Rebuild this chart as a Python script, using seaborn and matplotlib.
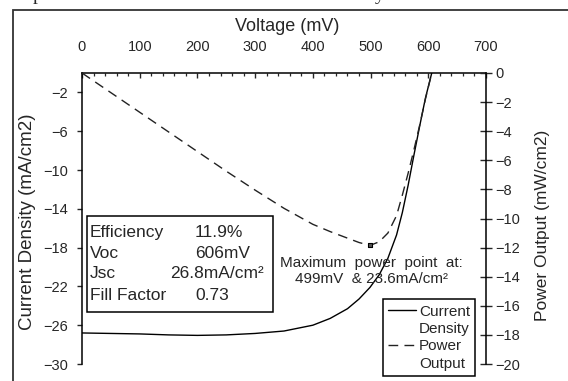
import matplotlib
matplotlib.use('Agg')
import matplotlib.pyplot as plt
import seaborn as sns
import pandas as pd
from matplotlib.lines import Line2D
from matplotlib.patches import Rectangle
from matplotlib.ticker import MultipleLocator

# values
voltage_mv = [0, 50, 100, 150, 200, 250, 300, 350, 400, 430, 460, 480, 499,
              515, 530, 545, 555, 565, 575, 585, 595, 606]
current_density = [-26.8, -26.85, -26.9, -27.0, -27.05, -27.0, -26.85, -26.6, -26.0,
                   -25.3, -24.3, -23.3, -22.1, -20.8, -19.1, -16.7, -14.4, -11.6,
                   -8.5, -5.5, -2.6, 0.0]
power_output = [0.0, -1.35, -2.7, -4.05, -5.4, -6.75, -8.05, -9.3, -10.4, -10.9,
                -11.35, -11.65, -11.85, -11.6, -11.0, -9.8, -8.4, -6.9, -5.3,
                -3.6, -1.8, 0.0]
mpp_voltage = [499]
mpp_power = [-11.85]

stats_names = ['Efficiency', 'Voc', 'Jsc', 'Fill Factor']
stats_values = ['11.9%', '606mV', '26.8mA/cm\u00b2', '0.73']

df = pd.DataFrame({'Voltage': voltage_mv, 'Current': current_density, 'Power': power_output})

sns.set_style('white')
plt.rcParams['font.family'] = ['Liberation Sans', 'DejaVu Sans']

fig = plt.figure(figsize=(5.68, 3.81), dpi=100)
ax = fig.add_axes([82 / 568, 1 - 364 / 381, 404 / 568, 291 / 381])
ax2 = ax.twinx()

sns.lineplot(data=df, x='Voltage', y='Current', ax=ax, color='black', lw=1.0,
             errorbar=None)
sns.lineplot(data=df, x='Voltage', y='Power', ax=ax2, color='#222222', lw=1.0,
             linestyle=(0, (7, 4.5)), errorbar=None)
sns.scatterplot(x=mpp_voltage, y=mpp_power, ax=ax2, marker='s', s=12,
                color='#555555', edgecolor='black', linewidth=0.8, zorder=5)

# left axis / top x axis
ax.set_xlim(0, 700)
ax.set_ylim(-30, 0)
ax.set_yticks(range(-30, 0, 4))
ax.xaxis.set_major_locator(MultipleLocator(100))
ax.xaxis.set_minor_locator(MultipleLocator(20))
ax.xaxis.tick_top()
ax.xaxis.set_label_position('top')
ax.tick_params(axis='x', which='major', direction='in', length=3.6, width=1,
               pad=13.5, labelsize=10.5, top=True, bottom=False)
ax.tick_params(axis='x', which='minor', direction='in', length=2.2, width=0.9,
               top=True, bottom=False)
ax.tick_params(axis='y', direction='out', length=3.6, width=1, pad=6.3,
               labelsize=10.5, left=True)
for side in ['bottom', 'right']:
    ax.spines[side].set_visible(False)
for side in ['left', 'top']:
    ax.spines[side].set_linewidth(1.1)
    ax.spines[side].set_color('black')

ax.set_xlabel('Voltage (mV)', fontsize=13, va='center')
ax.xaxis.set_label_coords(0.509, 1.1615)
ax.set_ylabel('Current Density (mA/cm2)', fontsize=13.5, va='center')
ax.yaxis.set_label_coords(-0.134, 0.49)

# right axis
ax2.set_ylim(-20, 0)
ax2.set_yticks(range(-20, 1, 2))
ax2.tick_params(axis='y', direction='inout', length=8.6, width=1, pad=2.2,
                labelsize=10.5, right=True)
for side in ['bottom', 'top', 'left']:
    ax2.spines[side].set_visible(False)
ax2.spines['right'].set_linewidth(1.1)
ax2.spines['right'].set_color('black')
ax2.set_ylabel('Power Output (mW/cm2)', fontsize=12.5, va='center', rotation=90)
ax2.yaxis.set_label_coords(1.141, 0.478)

# stats box
ax.add_patch(Rectangle((0.0124, 0.1787), 0.4604, 0.33, transform=ax.transAxes,
                       fill=False, edgecolor='black', lw=1.1, zorder=4))
rows_y = [0.4536, 0.3814, 0.3093, 0.2337]
value_x = [0.2797, 0.2797, 0.2178, 0.2797]
for name, val, yy, vx in zip(stats_names, stats_values, rows_y, value_x):
    ax.text(0.0198, yy, name, transform=ax.transAxes, fontsize=12.5, va='center')
    ax.text(vx, yy, val, transform=ax.transAxes, fontsize=12.5, va='center')

ax.text(0.7166, 0.3196, 'Maximum  power  point  at:\n499mV  & 23.6mA/cm\u00b2',
        transform=ax.transAxes, fontsize=11, ha='center', va='center',
        multialignment='center')

# legend with the handle next to the first line of each label
blank = Line2D([], [], linestyle='none')
handles = [ax.get_lines()[0], blank, ax2.get_lines()[0], blank]
labels = ['Current', 'Density', 'Power', 'Output']
leg = ax2.legend(handles, labels, loc='lower left', bbox_to_anchor=(0.745, -0.041),
                 borderaxespad=0, fontsize=11, handlelength=1.8, handletextpad=0.2,
                 labelspacing=0.22, borderpad=0.35, fancybox=False, framealpha=1,
                 edgecolor='black')
leg.get_frame().set_linewidth(1.1)

# outer frame of the pasted figure and clipped text above it
fig.patches.append(Rectangle((13 / 568, -0.1), 1.2, 371.5 / 381 + 0.1,
                             transform=fig.transFigure, fill=False,
                             edgecolor='#333333', lw=1.3))
fig.text(33 / 568, 1.0, 'p', fontsize=14, family='Liberation Serif', va='baseline')
fig.text(375 / 568, 1.0, 'y', fontsize=14, family='Liberation Serif', va='baseline')

fig.savefig('out.png', dpi=100)
